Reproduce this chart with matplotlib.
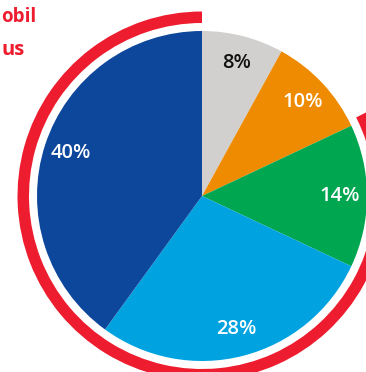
import matplotlib
matplotlib.use("Agg")
import matplotlib.pyplot as plt
from matplotlib.patches import Wedge

values = [8, 10, 14, 28, 40]
labels = ["8%", "10%", "14%", "28%", "40%"]
colors = ["#D1D0CF", "#EE8B00", "#00A650", "#00A3E0", "#0D479C"]
label_colors = ["#111111", "white", "white", "white", "white"]
title_lines = ["obil", "us"]

W, H = 366, 372
fig = plt.figure(figsize=(W / 100, H / 100), dpi=100)
ax = fig.add_axes([0, 0, 1, 1])

cx, cy = 202, H - 196
R = 165

wedges, texts = ax.pie(values, colors=colors, startangle=90, counterclock=False,
                       center=(cx, cy), radius=R, labels=labels, labeldistance=0.835,
                       frame=True, wedgeprops=dict(linewidth=0))
for t, c in zip(texts, label_colors):
    t.set_color(c)
    t.set_fontsize(14.5)
    t.set_fontweight("semibold")
    t.set_family("Open Sans")
    t.set_ha("center")
    t.set_va("center")
ax.set_xlim(0, W)
ax.set_ylim(0, H)
ax.set_aspect("equal")
ax.axis("off")

ring = Wedge((cx, cy), 184.5, 90, 387, width=11.5, facecolor="#ED1C2E", edgecolor="none")
ax.add_patch(ring)

ax.text(1, H - 22, title_lines[0], ha="left", va="baseline", color="#ED1C2E",
        fontsize=13.5, fontweight="bold", family="Open Sans")
ax.text(24.5, H - 55, title_lines[1], ha="right", va="baseline", color="#ED1C2E",
        fontsize=14.5, fontweight="bold", family="Open Sans")

fig.savefig("out.png", dpi=100)
